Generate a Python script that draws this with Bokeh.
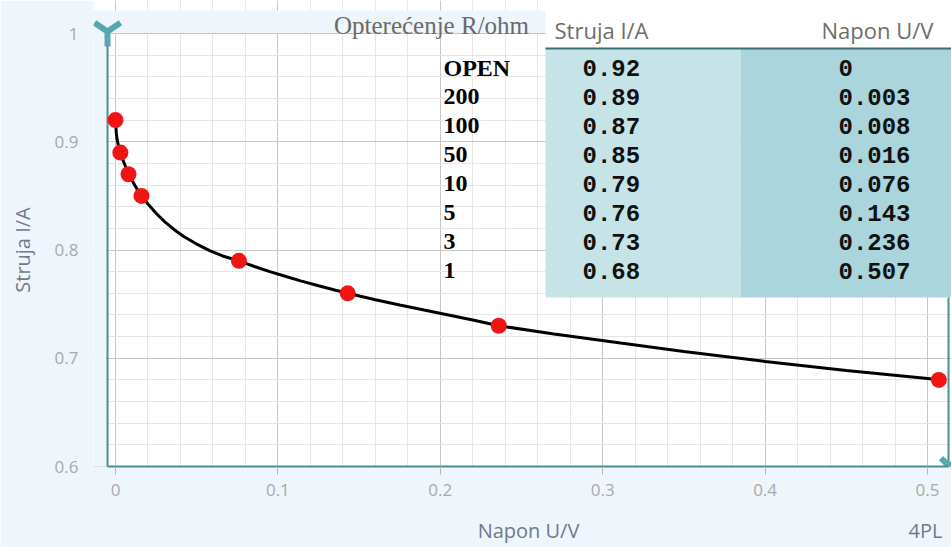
from bokeh.plotting import figure
from bokeh.models import (Range1d, SingleIntervalTicker, FixedTicker,
                          CustomJSTickFormatter, ColumnDataSource, LinearAxis)
from bokeh.core.properties import value
from bokeh.embed import file_html
from bokeh.resources import INLINE

# ---------------- data ----------------
loads = ["OPEN", "200", "100", "50", "10", "5", "3", "1"]          # R / ohm
current = [0.92, 0.89, 0.87, 0.85, 0.79, 0.76, 0.73, 0.68]          # I / A
voltage = [0, 0.003, 0.008, 0.016, 0.076, 0.143, 0.236, 0.507]     # U / V

# 4PL fitted curve
fit_u = [0, 0.0005, 0.001, 0.002, 0.003, 0.005, 0.008, 0.012, 0.016,
         0.020, 0.025, 0.030, 0.036, 0.042, 0.050, 0.058, 0.066, 0.076,
         0.086, 0.095, 0.105, 0.114, 0.125, 0.135, 0.143, 0.160, 0.175,
         0.190, 0.205, 0.220, 0.236, 0.270, 0.311, 0.350, 0.400, 0.450,
         0.500, 0.507]
fit_i = [0.92, 0.908, 0.902, 0.895, 0.89, 0.8815, 0.87, 0.8595, 0.85,
         0.8425, 0.834, 0.8265, 0.819, 0.8125, 0.8055, 0.7995, 0.7945, 0.79,
         0.7845, 0.780, 0.7755, 0.7715, 0.767, 0.763, 0.76, 0.7541, 0.7492,
         0.7445, 0.7399, 0.7353, 0.7300, 0.7225, 0.714, 0.7063, 0.697, 0.6886,
         0.6812, 0.68]

col_titles = ["Opterećenje R/ohm", "Struja I/A", "Napon U/V"]
x_title = "Napon U/V"
y_title = "Struja I/A"
fit_name = "4PL"

current_txt = [f"{c:.2f}" for c in current]
voltage_txt = [f"{v:g}" for v in voltage]

# ---------------- layout (picture pixels) ----------------
W, H = 951, 547
FX0, FX1 = 93, 951       # frame left/right
FY0, FY1 = 0, 466        # frame top/bottom
AXX = 107                # x of the y axis line
RB = 948                 # x of the right frame border
X0PX, PX_PER_X = 115, 1624.0
Y1PX = 33                # y of I = 1.0
PX_PER_Y = (FY1 - Y1PX) / 0.4

BG = "#eef5fb"
TEAL = "#4a8d92"
ICON = "#56a8ae"
TITLE_C = "#6f7a8c"


def px2x(px):
    return (px - X0PX) / PX_PER_X


x_rng = Range1d(px2x(FX0), px2x(FX1))
y_rng = Range1d(0.6, 1.0 + (Y1PX - FY0) / PX_PER_Y)

p = figure(width=W, height=H, x_range=x_rng, y_range=y_rng,
           output_backend="svg", toolbar_location=None,
           min_border=0, min_border_left=FX0, min_border_right=W - FX1,
           min_border_top=FY0, min_border_bottom=H - FY1,
           border_fill_color=BG, background_fill_color="white",
           outline_line_color=None)
p.extra_x_ranges = {"px": Range1d(FX0, FX1)}
p.extra_y_ranges = {"px": Range1d(FY1, FY0)}

fmt = CustomJSTickFormatter(code="return (Math.round(tick*10)/10).toString();")
xt = SingleIntervalTicker(interval=0.1, num_minor_ticks=5)
yt = SingleIntervalTicker(interval=0.1, num_minor_ticks=5)

for ax, t in ((p.xaxis, xt), (p.yaxis, yt)):
    ax.ticker = t
    ax.formatter = fmt
    ax.minor_tick_line_color = None
    ax.major_tick_in = 0
    ax.major_label_text_font = "Open Sans"
    ax.major_label_text_font_size = "17px"
    ax.major_label_text_color = "#a9a9a9"

p.xaxis.bounds = (px2x(AXX), px2x(RB))
p.xaxis.axis_line_color = TEAL
p.xaxis.axis_line_width = 2
p.xaxis.major_tick_out = 8
p.xaxis.major_tick_line_color = "#b8b8b8"
p.xaxis.major_label_standoff = 9

p.yaxis.bounds = (0.6, 1.0)
p.yaxis.axis_line_color = None
p.yaxis.major_tick_out = 0
p.yaxis.major_tick_line_color = None
p.yaxis.major_label_standoff = FX0 - 82

TITLE_KW = dict(axis_line_color=None, major_tick_line_color=None,
                minor_tick_line_color=None, major_tick_out=0, major_tick_in=0,
                major_label_text_font="Open Sans",
                major_label_text_font_size="20px",
                major_label_text_color=TITLE_C)

# row under the x axis: axis title and fit name
title_row = LinearAxis(
    ticker=FixedTicker(ticks=[px2x(528), px2x(925)]),
    major_label_overrides={px2x(528): x_title, px2x(925): fit_name},
    major_label_standoff=18, **TITLE_KW)
p.add_layout(title_row, "below")

# column left of the y axis: axis title, centred on the 0.6 - 1.0 span
y_mid = 0.8
title_col = LinearAxis(
    ticker=FixedTicker(ticks=[y_mid]),
    major_label_overrides={y_mid: y_title},
    major_label_orientation="vertical",
    major_label_standoff=16, **TITLE_KW)
p.add_layout(title_col, "left")

p.xgrid.ticker = xt
p.ygrid.ticker = yt
for g in (p.xgrid, p.ygrid):
    g.grid_line_color = "#c6c6c6"
    g.minor_grid_line_color = "#e6e6e6"

PX = dict(x_range_name="px", y_range_name="px")

# blue margins inside the frame (left strip and band above the plot area)
p.quad(left=[FX0], right=[AXX - 1], top=[10], bottom=[FY1],
       fill_color=BG, line_color=None, **PX)
p.quad(left=[FX0], right=[FX1], top=[10], bottom=[Y1PX - 0.5],
       fill_color=BG, line_color=None, **PX)

# table backgrounds
TAB_L, COL_SPLIT, HEAD_B, TAB_B = 545, 740, 48, 297
p.quad(left=[TAB_L], right=[FX1], top=[FY0], bottom=[HEAD_B],
       fill_color="white", line_color=None, **PX)
p.quad(left=[TAB_L], right=[COL_SPLIT], top=[HEAD_B], bottom=[TAB_B],
       fill_color="#c6e3e8", line_color=None, **PX)
p.quad(left=[COL_SPLIT], right=[FX1], top=[HEAD_B], bottom=[TAB_B],
       fill_color="#aad5dc", line_color=None, **PX)
p.segment(x0=[TAB_L], y0=[HEAD_B], x1=[FX1], y1=[HEAD_B],
          line_color="#3b6e73", line_width=2, **PX)
# y axis line and right frame border
p.segment(x0=[AXX, RB], y0=[Y1PX, TAB_B], x1=[AXX, RB], y1=[FY1, FY1],
          line_color=TEAL, line_width=2, **PX)

# curve and points
p.line(fit_u, fit_i, line_color="black", line_width=3)
p.scatter(voltage, current, size=16, fill_color="#f01515", line_color=None)

# table texts
ROW0, ROW_H = 67, 29
rows = ColumnDataSource(dict(
    y=[ROW0 + ROW_H * i for i in range(len(loads))],
    load=loads, cur=current_txt, volt=voltage_txt,
    xl=[443] * len(loads), xc=[582] * len(loads), xv=[838] * len(loads)))

p.text(x="xl", y="y", text="load", source=rows,
       text_font=value("Liberation Serif"), text_font_style="bold",
       text_font_size="24px", text_color="black",
       text_baseline="middle", **PX)
p.text(x="xc", y="y", text="cur", source=rows,
       text_font=value("Liberation Mono"), text_font_style="bold",
       text_font_size="24px", text_color="#111111",
       text_baseline="middle", **PX)
p.text(x="xv", y="y", text="volt", source=rows,
       text_font=value("Liberation Mono"), text_font_style="bold",
       text_font_size="24px", text_color="#111111",
       text_baseline="middle", **PX)

p.text(x=[431], y=[25], text=[col_titles[0]],
       text_font=value("Liberation Serif"), text_font_size="25px",
       text_color="#6a6a6a", text_align="center", text_baseline="middle", **PX)
p.text(x=[601, 877], y=[29, 29], text=col_titles[1:],
       text_font=value("Open Sans"), text_font_size="22px",
       text_color="#6e6e6e", text_align="center", text_baseline="middle", **PX)

# axis end markers (drawn as marker shapes)
p.scatter(x=[AXX], y=[31], marker="y", size=30, line_color=ICON,
          line_width=6, **PX)
p.scatter(x=[RB + 1], y=[FY1], marker="x", size=24, line_color=ICON,
          line_width=6, **PX)

open("out.html", "w").write(file_html(p, INLINE))
